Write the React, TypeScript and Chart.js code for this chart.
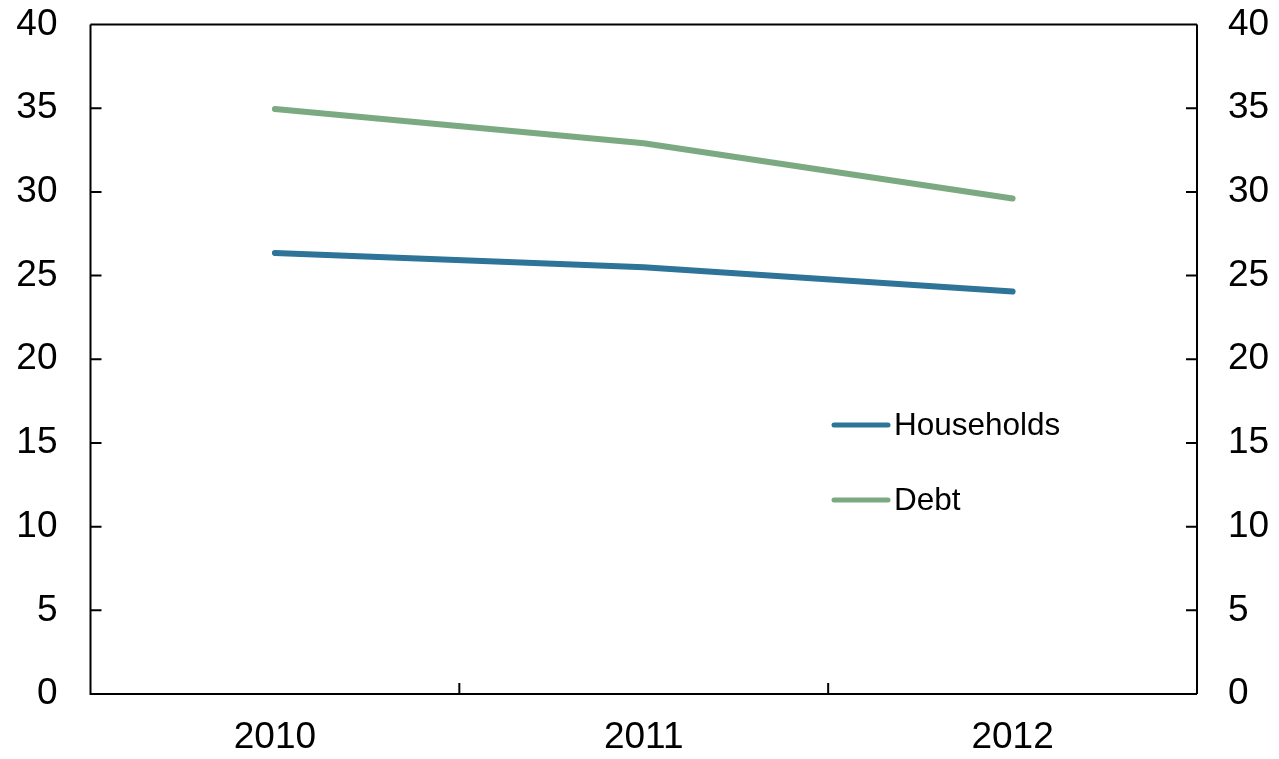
import React, { useEffect, useRef } from "react";
import { Chart, registerables } from "chart.js";

Chart.register(...registerables);

const categories = ["2010", "2011", "2012"];
const households = [26.35, 25.5, 24.05];
const debt = [34.95, 32.9, 29.6];
const yTicks = [0, 5, 10, 15, 20, 25, 30, 35, 40];
const seriesNames = ["Households", "Debt"];
const colors = ["#2E7398", "#7BAA82"];

const FONT = "'Liberation Sans', Arial, sans-serif";

const framePlugin = {
  id: "frame",
  afterDraw(chart: any) {
    const { ctx, chartArea } = chart;
    const { left, right, top, bottom } = chartArea;
    ctx.save();
    ctx.strokeStyle = "#000";
    ctx.lineWidth = 2;
    ctx.beginPath();
    ctx.moveTo(left, top);
    ctx.lineTo(right, top);
    ctx.moveTo(left, top);
    ctx.lineTo(left, bottom);
    ctx.lineTo(right, bottom);
    ctx.moveTo(right, top);
    ctx.lineTo(right, bottom);
    const y = chart.scales.y;
    yTicks.forEach((v) => {
      const py = y.getPixelForValue(v);
      ctx.moveTo(left, py);
      ctx.lineTo(left + 11, py);
      ctx.moveTo(right, py);
      ctx.lineTo(right - 11, py);
    });
    const x = chart.scales.x;
    const n = categories.length;
    for (let i = 1; i < n; i++) {
      const px = (x.getPixelForValue(i - 1) + x.getPixelForValue(i)) / 2;
      ctx.moveTo(px, bottom);
      ctx.lineTo(px, bottom - 11);
    }
    ctx.stroke();

    // legend
    const lx0 = left + (834 - 90.5);
    const ys = [top + (425 - 24.5), top + (500 - 24.5)];
    ctx.lineCap = "round";
    ctx.font = `31.5px ${FONT}`;
    ctx.textBaseline = "middle";
    ctx.textAlign = "left";
    seriesNames.forEach((name, i) => {
      ctx.strokeStyle = colors[i];
      ctx.lineWidth = 5;
      ctx.beginPath();
      ctx.moveTo(lx0, ys[i]);
      ctx.lineTo(lx0 + 54, ys[i]);
      ctx.stroke();
      ctx.fillStyle = "#000";
      ctx.fillText(name, lx0 + 60, ys[i] + 1);
    });
    ctx.restore();
  },
};

const zeroPad = (s: any) => {
  s.paddingTop = 0;
  s.paddingBottom = 0;
  s.paddingLeft = 0;
  s.paddingRight = 0;
};

export default function App() {
  const ref = useRef<HTMLCanvasElement>(null);
  useEffect(() => {
    document.body.style.margin = "0";
    const chart = new Chart(ref.current!, {
      type: "line",
      data: {
        labels: categories,
        datasets: [
          {
            label: seriesNames[0],
            data: households,
            borderColor: colors[0],
            borderWidth: 6,
            borderCapStyle: "round",
            pointRadius: 0,
            tension: 0,
            yAxisID: "y",
          },
          {
            label: seriesNames[1],
            data: debt,
            borderColor: colors[1],
            borderWidth: 6,
            borderCapStyle: "round",
            pointRadius: 0,
            tension: 0,
            yAxisID: "y",
          },
        ],
      },
      options: {
        animation: false,
        responsive: false,
        layout: { padding: { top: 24.5, left: 0, right: 0, bottom: 0 } },
        plugins: { legend: { display: false }, tooltip: { enabled: false } },
        scales: {
          x: {
            offset: true,
            grid: { display: false, drawTicks: false },
            border: { display: false },
            ticks: {
              color: "#000",
              font: { family: FONT, size: 37 },
              padding: 22,
              maxRotation: 0,
            },
            afterFit: (s: any) => {
              s.height = 65;
              zeroPad(s);
            },
          },
          y: {
            position: "left",
            min: 0,
            max: 40,
            afterBuildTicks: (s: any) => {
              s.ticks = yTicks.map((v) => ({ value: v }));
            },
            grid: { display: false, drawTicks: false },
            border: { display: false },
            ticks: {
              color: "#000",
              font: { family: FONT, size: 37 },
              padding: 33,
            },
            afterFit: (s: any) => {
              s.width = 90.5;
              zeroPad(s);
            },
          },
          y2: {
            position: "right",
            min: 0,
            max: 40,
            afterBuildTicks: (s: any) => {
              s.ticks = yTicks.map((v) => ({ value: v }));
            },
            grid: { display: false, drawTicks: false },
            border: { display: false },
            ticks: {
              color: "#000",
              font: { family: FONT, size: 37 },
              padding: 31,
            },
            afterFit: (s: any) => {
              s.width = 82;
              zeroPad(s);
            },
          },
        },
      },
      plugins: [framePlugin],
    });
    return () => chart.destroy();
  }, []);
  return (
    <div style={{ width: 1279, height: 759 }}>
      <canvas ref={ref} width={1279} height={759} />
    </div>
  );
}
